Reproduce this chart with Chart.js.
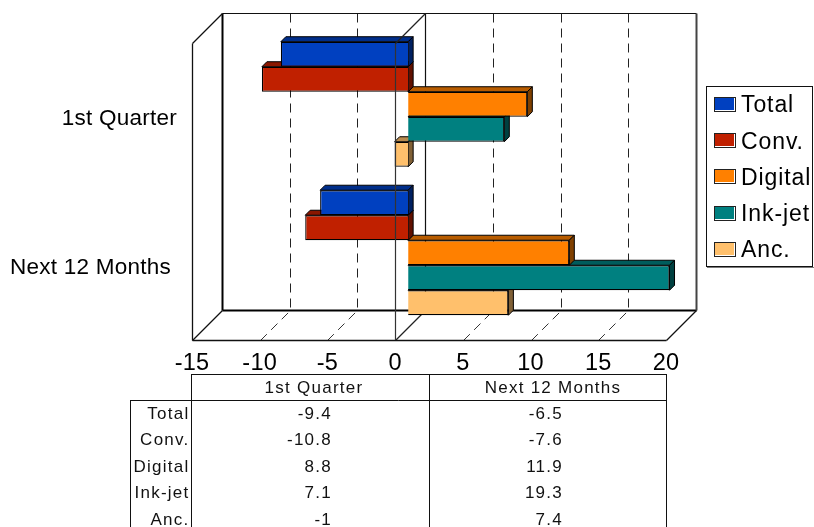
<!DOCTYPE html>
<html>
<head>
<meta charset="utf-8">
<title>Quarterly and 12-month outlook by segment</title>
<script src="https://cdn.jsdelivr.net/npm/chart.js@4/dist/chart.umd.min.js"></script>
<style>
  html, body { margin: 0; padding: 0; background: #fff; }
  canvas { display: block; }
</style>
</head>
<body>
<canvas id="chart" width="814" height="527"></canvas>
<script>
const categories = ['1st Quarter', 'Next 12 Months'];
const segmentNames = ['Total', 'Conv.', 'Digital', 'Ink-jet', 'Anc.'];
const totalValues = [-9.4, -6.5];
const convValues = [-10.8, -7.6];
const digitalValues = [8.8, 11.9];
const inkjetValues = [7.1, 19.3];
const ancValues = [-1, 7.4];
const segmentColors = ['#0040C0', '#C02000', '#FF8000', '#008080', '#FFC06C'];
const tickValues = [-15, -10, -5, 0, 5, 10, 15, 20];

const allValues = [totalValues, convValues, digitalValues, inkjetValues, ancValues];
const FONT = '"Liberation Sans", Arial, sans-serif';
const WALL = 30;       // depth of the box, in pixels
const BAR_PLANE = 13;  // how far back the bars stand from the front of the box
const BAR_DEPTH = 5;   // thickness of each bar's top and side faces

function shade(hex, f) {
  const n = parseInt(hex.slice(1), 16);
  const c = [n >> 16, (n >> 8) & 255, n & 255].map(v => Math.round(v * f));
  return `rgb(${c[0]},${c[1]},${c[2]})`;
}

function line(ctx, x1, y1, x2, y2, width, color, dash) {
  ctx.save();
  ctx.beginPath();
  ctx.lineWidth = width;
  ctx.strokeStyle = color;
  ctx.setLineDash(dash || []);
  ctx.moveTo(x1, y1);
  ctx.lineTo(x2, y2);
  ctx.stroke();
  ctx.restore();
}

function polygon(ctx, pts, fill) {
  ctx.beginPath();
  pts.forEach((p, i) => (i ? ctx.lineTo(p[0], p[1]) : ctx.moveTo(p[0], p[1])));
  ctx.closePath();
  ctx.fillStyle = fill;
  ctx.fill();
  ctx.lineWidth = 1;
  ctx.strokeStyle = '#000';
  ctx.stroke();
}

// Walls, floor and dashed gridlines of the box, taken from the value scale.
const boxPlugin = {
  id: 'box',
  afterLayout(chart) {
    // nudge the category labels to sit where the box's perspective puts them
    const items = chart.scales.y.getLabelItems(chart.chartArea);
    const nudgeX = [3, -3];
    items.forEach((item, i) => {
      item.options.translation[0] += nudgeX[i];
      item.options.translation[1] += 2;
    });
  },
  beforeDraw(chart) {
    chart.ctx.letterSpacing = '0.25px';
  },
  beforeDatasetsDraw(chart) {
    const { ctx, chartArea: a, scales: { x } } = chart;
    const L = a.left + 0.5, R = a.right + 0.5, T = a.top + 0.5, B = a.bottom + 0.5;
    const d = WALL;
    tickValues.slice(1, -1).forEach(v => {
      const px = Math.round(x.getPixelForValue(v)) + 0.5;
      if (v === 0) {
        line(ctx, px + d, T - d, px + d, B - d, 1.2, '#111');
        line(ctx, px, B, px + d, B - d, 1.2, '#222');
      } else {
        line(ctx, px + d, T - d, px + d, B - d, 1, '#222', [9, 6]);
        line(ctx, px, B, px + d, B - d, 1, '#333', [9, 6]);
      }
    });
    line(ctx, L + d, T - d, R + d, T - d, 1.2, '#111');
    line(ctx, L + d, B - d, R + d, B - d, 2, '#000');
    line(ctx, L + d, T - d, L + d, B - d, 2, '#000');
    line(ctx, R + d, T - d, R + d, B - d, 2, '#444');
    line(ctx, L, T, L + d, T - d, 1.3, '#111');
    line(ctx, L, T, L, B, 1.3, '#111');
    line(ctx, L, B, L + d, B - d, 1.3, '#111');
    line(ctx, L, B, R, B, 1.3, '#111');
    line(ctx, R, B, R + d, B - d, 1.3, '#111');

    // bars and their faces stand on a plane set back inside the box
    ctx.save();
    ctx.translate(BAR_PLANE, -BAR_PLANE);
  },
  // Top and side faces go down just before each series' front faces.
  beforeDatasetDraw(chart, args) {
    const { ctx } = chart;
    const color = segmentColors[args.index];
    args.meta.data.forEach(el => {
      const p = el.getProps(['x', 'y', 'base', 'height'], true);
      const x1 = Math.min(p.x, p.base), x2 = Math.max(p.x, p.base);
      const y1 = p.y - p.height / 2, y2 = p.y + p.height / 2;
      const k = BAR_DEPTH;
      polygon(ctx, [[x1, y1], [x1 + k, y1 - k], [x2 + k, y1 - k], [x2, y1]], shade(color, 0.72));
      polygon(ctx, [[x2, y1], [x2 + k, y1 - k], [x2 + k, y2 - k], [x2, y2]], shade(color, 0.5));
    });
  },
  afterDatasetsDraw(chart) {
    const { ctx, chartArea: a, scales: { x } } = chart;
    ctx.restore();
    const px = Math.round(x.getPixelForValue(0)) + 0.5;
    line(ctx, px, a.top, px, a.bottom, 1.2, '#333');
    line(ctx, px, a.top + 0.5, px + WALL, a.top - WALL + 0.5, 1.2, '#222');
  }
};

// Series key at the right of the box, built from the datasets.
const keyPlugin = {
  id: 'key',
  afterDraw(chart) {
    const { ctx } = chart;
    ctx.save();
    ctx.strokeStyle = '#111';
    ctx.lineWidth = 1;
    ctx.strokeRect(706.5, 86.5, 106, 180);
    ctx.fillStyle = '#7a7a7a';
    ctx.fillRect(707, 267, 107, 1);
    ctx.font = '23px ' + FONT;
    ctx.letterSpacing = '0.9px';
    ctx.textBaseline = 'middle';
    ctx.textAlign = 'left';
    chart.data.datasets.forEach((ds, i) => {
      const cy = 105 + i * 36.2;
      const top = Math.round(cy - 8);
      ctx.fillStyle = ds.backgroundColor;
      ctx.fillRect(714, top, 22, 15);
      ctx.strokeStyle = '#222';
      ctx.strokeRect(714.5, top + 0.5, 21, 14);
      ctx.fillStyle = '#fff';
      ctx.fillRect(715, top + 13, 20, 1);
      ctx.fillRect(734, top + 1, 1, 13);
      ctx.fillStyle = '#000';
      ctx.fillText(ds.label, 741, cy + 1);
    });
    ctx.restore();
  }
};

// Values table under the value axis.
const tablePlugin = {
  id: 'valueTable',
  afterDraw(chart) {
    const { ctx } = chart;
    const colX = [191.5, 429.5, 666.5];
    ctx.save();
    ctx.strokeStyle = '#111';
    ctx.lineWidth = 1;
    ctx.beginPath();
    ctx.moveTo(colX[0], 374.5); ctx.lineTo(colX[2], 374.5);
    ctx.moveTo(130, 400.5); ctx.lineTo(colX[2], 400.5);
    colX.forEach(cx => { ctx.moveTo(cx, 374); ctx.lineTo(cx, 527); });
    ctx.moveTo(130.5, 400); ctx.lineTo(130.5, 527);
    ctx.stroke();

    ctx.fillStyle = '#111';
    ctx.font = '17px ' + FONT;
    ctx.letterSpacing = '1.25px';
    ctx.textBaseline = 'middle';
    ctx.textAlign = 'center';
    ctx.fillText(categories[0], 314, 388.5);
    ctx.fillText(categories[1], 553, 388.5);
    const valueRight = [332, 563];
    segmentNames.forEach((name, r) => {
      const cy = 414 + r * 26.5;
      ctx.textAlign = 'right';
      ctx.fillText(name, 189.5, cy);
      categories.forEach((_, c) => {
        ctx.fillText(String(allValues[r][c]), valueRight[c], cy);
      });
    });
    ctx.restore();
  }
};

new Chart(document.getElementById('chart'), {
  type: 'bar',
  data: {
    labels: categories,
    datasets: segmentNames.map((name, i) => ({
      label: name,
      data: allValues[i],
      backgroundColor: segmentColors[i],
      borderColor: '#000',
      borderWidth: 1.2,
      categoryPercentage: 0.842,
      barPercentage: 1,
      clip: false
    }))
  },
  options: {
    indexAxis: 'y',
    responsive: false,
    animation: false,
    events: [],
    layout: { padding: { top: 43, right: 148, left: 0, bottom: 0 } },
    plugins: { legend: { display: false }, tooltip: { enabled: false }, title: { display: false } },
    scales: {
      x: {
        type: 'linear',
        min: -15,
        max: 20,
        grid: { display: false },
        border: { display: false },
        afterBuildTicks(axis) { axis.ticks = tickValues.map(value => ({ value })); },
        afterFit(axis) { axis.height = 187; },
        ticks: { color: '#000', font: { family: FONT, size: 23.5 }, padding: 1, maxRotation: 0, autoSkip: false }
      },
      y: {
        grid: { display: false },
        border: { display: false },
        afterFit(axis) { axis.width = 192; },
        ticks: { color: '#000', font: { family: FONT, size: 22.5 }, padding: 10, autoSkip: false }
      }
    }
  },
  plugins: [boxPlugin, keyPlugin, tablePlugin]
});
</script>
</body>
</html>
